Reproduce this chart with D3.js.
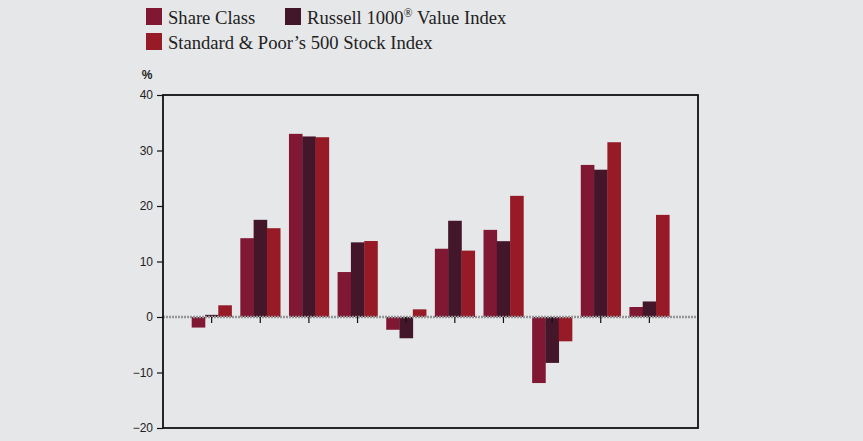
<!DOCTYPE html>
<html>
<head>
<meta charset="utf-8">
<script src="https://cdn.jsdelivr.net/npm/d3@7/dist/d3.min.js"></script>
<style>
  html, body { margin: 0; padding: 0; background: #e6e7e9; }
  svg { display: block; }
</style>
</head>
<body>
<svg id="chart" width="863" height="441"></svg>
<script>
// Calendar-year total returns (%)
const years = ["2011", "2012", "2013", "2014", "2015", "2016", "2017", "2018", "2019", "2020"];
const shareClass = [-1.9, 14.2, 33.0, 8.1, -2.3, 12.3, 15.7, -11.9, 27.4, 1.8];
const russell1000Value = [0.39, 17.51, 32.53, 13.45, -3.83, 17.34, 13.66, -8.27, 26.54, 2.80];
const sp500 = [2.11, 16.00, 32.39, 13.69, 1.38, 11.96, 21.83, -4.38, 31.49, 18.40];
// Legend labels split into [text, superscript, text] pieces
const seriesNames = [
  ["Share Class", "", ""],
  ["Russell 1000", "\u00AE", " Value Index"],
  ["Standard & Poor\u2019s 500 Stock Index", "", ""]
];
const seriesColors = ["#801733", "#44162a", "#971b26"];
const yTicks = [40, 30, 20, 10, 0, -10, -20];

const series = [shareClass, russell1000Value, sp500];

const svg = d3.select("#chart");
const plot = { left: 163, right: 698, top: 95, bottom: 428 };

const x = d3.scalePoint().domain(years).range([plot.left, plot.right]).padding(1);
const y = d3.scaleLinear().domain([-20, 40]).range([plot.bottom, plot.top]);
const barW = 13.3;
const sub = d3.scaleBand().domain(d3.range(series.length))
  .range([-barW * 1.5, barW * 1.5]).padding(0);

// Bars
const groups = svg.append("g").selectAll("g")
  .data(years).join("g")
  .attr("transform", d => `translate(${x(d)},0)`);

groups.selectAll("rect")
  .data((d, i) => series.map((s, k) => ({ k, v: s[i] })))
  .join("rect")
  .attr("x", d => sub(d.k))
  .attr("width", sub.bandwidth() + 0.3)
  .attr("y", d => y(Math.max(0, d.v)))
  .attr("height", d => Math.abs(y(d.v) - y(0)))
  .attr("fill", d => seriesColors[d.k]);

// Zero reference line (dotted)
svg.append("line")
  .attr("x1", plot.left).attr("x2", plot.right)
  .attr("y1", y(0)).attr("y2", y(0))
  .attr("stroke", "#959597").attr("stroke-width", 2.4)
  .attr("stroke-dasharray", "2,1");

// Category tick marks on the zero line
svg.append("g").selectAll("line")
  .data(years).join("line")
  .attr("x1", d => x(d)).attr("x2", d => x(d))
  .attr("y1", y(0)).attr("y2", y(0) + 6)
  .attr("stroke", "#111").attr("stroke-width", 1.2);

// Frame
svg.append("rect")
  .attr("x", plot.left).attr("y", plot.top)
  .attr("width", plot.right - plot.left).attr("height", plot.bottom - plot.top)
  .attr("fill", "none").attr("stroke", "#111").attr("stroke-width", 1.8);

// Y axis
const yAxis = d3.axisLeft(y).tickValues(yTicks).tickSize(6).tickPadding(4)
  .tickFormat(d3.format("d"));
const ya = svg.append("g").attr("transform", `translate(${plot.left},0)`).call(yAxis);
ya.select(".domain").remove();
ya.selectAll(".tick line").attr("stroke", "#111").attr("stroke-width", 1.2);
ya.selectAll(".tick text")
  .attr("font-family", "Liberation Sans, Arial, sans-serif")
  .attr("font-size", 12).attr("fill", "#222");

svg.append("text")
  .attr("x", 147).attr("y", 79)
  .attr("text-anchor", "middle")
  .attr("font-family", "Liberation Sans, Arial, sans-serif")
  .attr("font-size", 12).attr("font-weight", "bold").attr("fill", "#222")
  .text("%");

// Legend
const legendItems = [
  { x: 146, y: 8, i: 0 },
  { x: 285, y: 8, i: 1 },
  { x: 146, y: 33, i: 2 }
];
const lg = svg.append("g").selectAll("g").data(legendItems).join("g")
  .attr("transform", d => `translate(${d.x},${d.y})`);
lg.append("rect").attr("width", 16).attr("height", 17)
  .attr("fill", d => seriesColors[d.i]);
const lt = lg.append("text")
  .attr("x", 22).attr("y", 16)
  .attr("font-family", "Liberation Serif, Times New Roman, serif")
  .attr("font-size", 18.6).attr("fill", "#222");
lt.append("tspan").text(d => seriesNames[d.i][0]);
lt.append("tspan").attr("font-size", 12).attr("dy", -7)
  .text(d => seriesNames[d.i][1]);
lt.append("tspan").attr("dy", 7).text(d => seriesNames[d.i][2]);
</script>
</body>
</html>
